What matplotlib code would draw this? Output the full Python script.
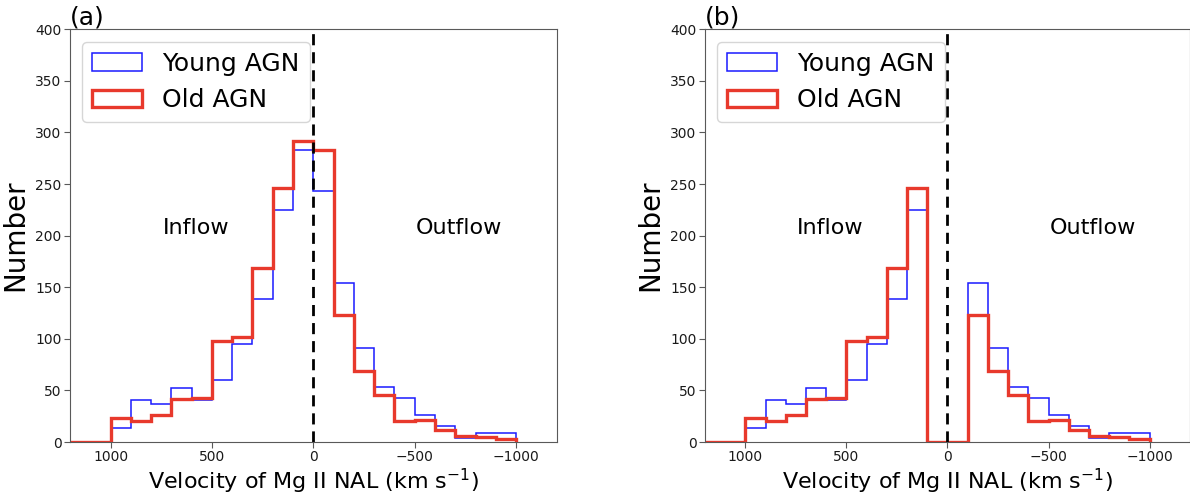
import numpy as np
import matplotlib
matplotlib.use("Agg")
import matplotlib.pyplot as plt
from matplotlib.patches import Patch

# bin edges in km/s (100 km/s bins from -1000 to 1200)
EDGES = np.arange(-1000, 1201, 100)

# counts per bin, ordered from -1000..-900 up to 1100..1200
YOUNG = [9, 9, 4, 16, 26, 43, 53, 91, 154, 243,
         283, 225, 139, 95, 60, 41, 52, 37, 41, 14, 0, 0]
OLD   = [3, 5, 6, 12, 21, 20, 46, 69, 123, 283,
         292, 246, 169, 102, 98, 43, 42, 26, 20, 23, 0, 0]

# panel (b): bins within |v| < 100 km/s removed
CUT = (-100, 100)

BLUE = "#1a1aff"
RED = "#e8392c"
SPINE = "0.35"

fig = plt.figure(figsize=(11.9, 4.95), dpi=100)
ax_a = fig.add_axes([0.0588, 0.107, 0.409, 0.834])
ax_b = fig.add_axes([0.5924, 0.107, 0.4076, 0.834])


def masked(counts):
    c = np.array(counts, dtype=float)
    centers = (EDGES[:-1] + EDGES[1:]) / 2
    c[(centers > CUT[0]) & (centers < CUT[1])] = 0
    return c


for ax, tag, young, old in [(ax_a, "(a)", YOUNG, OLD),
                            (ax_b, "(b)", masked(YOUNG), masked(OLD))]:
    ax.stairs(young, EDGES, baseline=0, fill=False, color=BLUE, lw=1.1)
    ax.stairs(old, EDGES, baseline=0, fill=False, color=RED, lw=2.4)
    ax.axvline(0, color="black", ls=(0, (4, 2.5)), lw=2)
    ax.set_xlim(1200, -1200)
    ax.set_ylim(0, 400)
    ax.set_xticks([1000, 500, 0, -500, -1000])
    ax.set_xticklabels(["1000", "500", "0", "\u2212500", "\u22121000"])
    ax.set_yticks(np.arange(0, 401, 50))
    ax.tick_params(labelsize=10, colors="0.1", length=4, color=SPINE, pad=2)
    for s in ax.spines.values():
        s.set_color(SPINE)
    ax.text(580, 207, "Inflow", fontsize=16, ha="center", va="center")
    ax.text(-720, 207, "Outflow", fontsize=16, ha="center", va="center")
    ax.set_xlabel("Velocity of Mg II NAL (km s$^{-1}$)", fontsize=16, labelpad=1.5)
    ax.set_ylabel("Number", fontsize=20, labelpad=4)
    ax.set_title(tag, loc="left", fontsize=18, pad=2)
    handles = [Patch(facecolor="none", edgecolor=BLUE, lw=1.1),
               Patch(facecolor="none", edgecolor=RED, lw=2.4)]
    ax.legend(handles, ["Young AGN", "Old AGN"], loc="upper left",
              fontsize=18, handlelength=2.0)

fig.savefig("out.png", dpi=100)
